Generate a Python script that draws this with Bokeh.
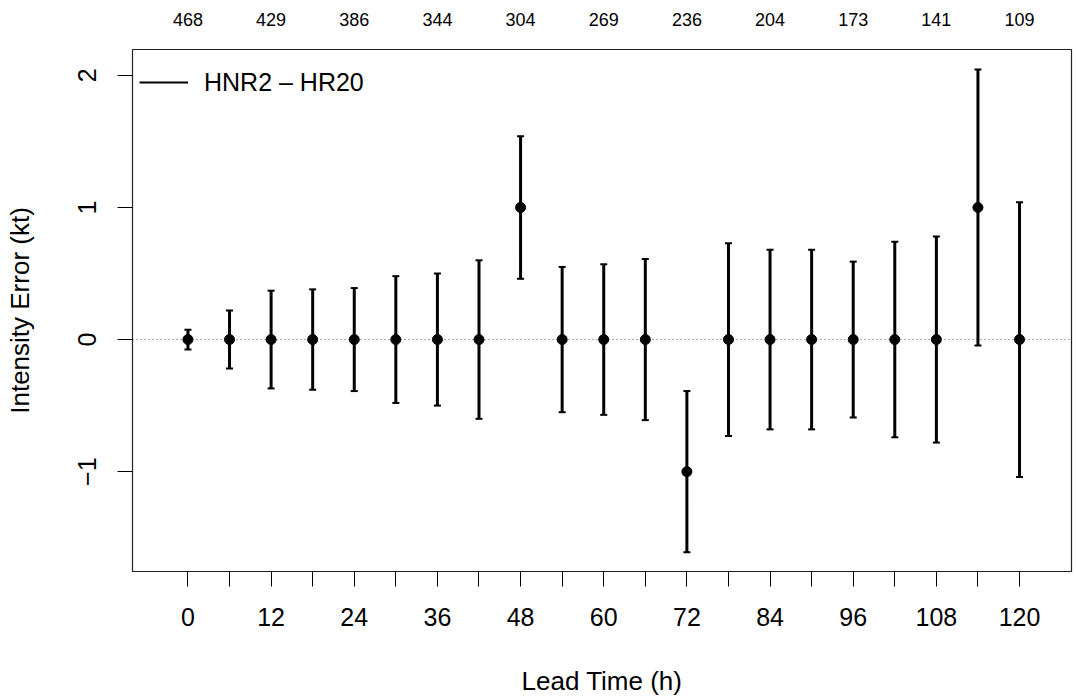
from bokeh.plotting import figure
from bokeh.models import (Range1d, FixedTicker, LinearAxis, Whisker, TeeHead,
                          ColumnDataSource, Span, Legend, LegendItem)
from bokeh.embed import file_html
from bokeh.resources import INLINE

# ---- data ----
lead_time = [0, 6, 12, 18, 24, 30, 36, 42, 48, 54, 60, 66, 72, 78, 84, 90, 96, 102, 108, 114, 120]
mean_error = [0, 0, 0, 0, 0, 0, 0, 0, 1, 0, 0, 0, -1, 0, 0, 0, 0, 0, 0, 1, 0]
half_width = [0.075, 0.22, 0.37, 0.38, 0.39, 0.48, 0.50, 0.60, 0.54, 0.55, 0.57, 0.61,
              0.61, 0.73, 0.68, 0.68, 0.59, 0.74, 0.78, 1.045, 1.04]
count_ticks = [0, 12, 24, 36, 48, 60, 72, 84, 96, 108, 120]
case_counts = [468, 429, 386, 344, 304, 269, 236, 204, 173, 141, 109]
y_ticks = [-1, 0, 1, 2]
series_label = "HNR2 \u2013 HR20"

FONT = "Liberation Sans"

src = ColumnDataSource(dict(
    lead=lead_time,
    mean=mean_error,
    lower=[m - h for m, h in zip(mean_error, half_width)],
    upper=[m + h for m, h in zip(mean_error, half_width)],
))

p = figure(width=1076, height=700, output_backend="svg", toolbar_location=None,
           x_range=Range1d(-8.0, 127.5), y_range=Range1d(-1.756, 2.196),
           min_border_left=132, min_border_right=5, min_border_top=49, min_border_bottom=129)
p.xgrid.visible = False
p.ygrid.visible = False
p.outline_line_color = "#222222"
p.outline_line_width = 1.2
p.outline_line_alpha = 1
p.background_fill_color = "white"
p.border_fill_color = "white"

# zero reference line
p.add_layout(Span(location=0, dimension="width", line_color="#555555",
                  line_dash="1 3", line_width=1, level="underlay"))

# error bars
tee = dict(size=7, line_width=2, line_color="black")
p.add_layout(Whisker(source=src, base="lead", lower="lower", upper="upper",
                     line_width=3, line_color="black",
                     upper_head=TeeHead(**tee), lower_head=TeeHead(**tee)))
p.scatter("lead", "mean", source=src, size=10, color="black")

# legend (line key only; renderer has no visible data)
nan = float("nan")
leg_r = p.line(x=[nan], y=[nan], line_color="black", line_width=2)
legend = Legend(items=[LegendItem(label=series_label, renderers=[leg_r])],
                location="top_left", border_line_color=None, background_fill_alpha=0,
                margin=7, padding=7, glyph_width=49, glyph_height=52, label_height=52,
                label_standoff=16, label_text_font=FONT, label_text_font_size="25px",
                label_text_color="black")
p.add_layout(legend)

# bottom axis
xa = p.xaxis[0]
xa.ticker = FixedTicker(ticks=lead_time)
xa.major_label_overrides = {t: (str(t) if t % 12 == 0 else "") for t in lead_time}
xa.axis_line_color = None
xa.major_tick_in = 0
xa.major_tick_out = 15
xa.major_tick_line_color = "black"
xa.minor_tick_line_color = None
xa.major_label_standoff = 21
xa.major_label_text_font = FONT
xa.major_label_text_font_size = "25px"
xa.major_label_text_color = "black"
xa.axis_label = "Lead Time (h)"
xa.axis_label_standoff = 37
xa.axis_label_text_font = FONT
xa.axis_label_text_font_size = "26px"
xa.axis_label_text_font_style = "normal"
xa.axis_label_text_color = "black"

# left axis
ya = p.yaxis[0]
ya.ticker = FixedTicker(ticks=y_ticks)
ya.major_label_overrides = {-1: "\u22121"}
ya.major_label_orientation = "vertical"
ya.axis_line_color = None
ya.major_tick_in = 0
ya.major_tick_out = 15
ya.major_tick_line_color = "black"
ya.minor_tick_line_color = None
ya.major_label_standoff = 21
ya.major_label_text_font = FONT
ya.major_label_text_font_size = "25px"
ya.major_label_text_color = "black"
ya.axis_label = "Intensity Error (kt)"
ya.axis_label_standoff = 41
ya.axis_label_text_font = FONT
ya.axis_label_text_font_size = "26px"
ya.axis_label_text_font_style = "normal"
ya.axis_label_text_color = "black"

# top axis with case counts
top = LinearAxis(ticker=FixedTicker(ticks=count_ticks),
                 major_label_overrides={t: str(c) for t, c in zip(count_ticks, case_counts)},
                 axis_line_color=None, major_tick_line_color=None, minor_tick_line_color=None,
                 major_label_standoff=18, major_label_text_font=FONT,
                 major_label_text_font_size="18px", major_label_text_color="black")
p.add_layout(top, "above")

open("out.html", "w").write(file_html(p, INLINE))
